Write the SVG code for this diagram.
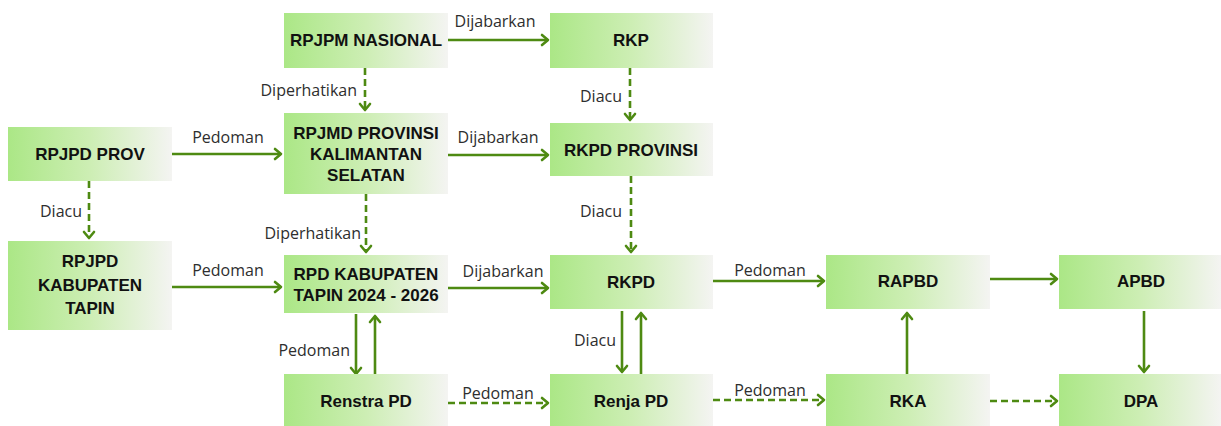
<svg xmlns="http://www.w3.org/2000/svg" width="1221" height="426" viewBox="0 0 1221 426">
<defs>
<linearGradient id="g" x1="0" y1="0" x2="1" y2="0">
<stop offset="0" stop-color="#abe786"/>
<stop offset="0.5" stop-color="#cdeeb4"/>
<stop offset="1" stop-color="#f4f4f2"/>
</linearGradient>
<marker id="ah" markerUnits="userSpaceOnUse" markerWidth="14" markerHeight="14" refX="8" refY="6" orient="auto" viewBox="0 0 14 12">
<path d="M2,1 L8,6 L2,11" fill="none" stroke="#4e8a12" stroke-width="2.6" stroke-linecap="round" stroke-linejoin="round"/>
</marker>
<style>
.box{fill:url(#g);}
.t{font-family:"Liberation Sans",Arial,sans-serif;font-weight:700;font-size:17px;fill:#111;text-anchor:middle;dominant-baseline:central;}
.l{font-family:"Open Sans","Liberation Sans",sans-serif;font-size:16px;fill:#2e2e2e;dominant-baseline:central;}
.c{text-anchor:middle;}
.r{text-anchor:end;}
.s{fill:none;stroke:#4e8a12;stroke-width:2.6;marker-end:url(#ah);}
.d{stroke-dasharray:7 4;}
</style>
</defs>
<rect width="1221" height="426" fill="#fff"/>

<g id="connectors">
<line class="s" x1="448" y1="40" x2="548" y2="40"/>
<text class="l c" x="495" y="21">Dijabarkan</text>
<line class="s d" x1="365" y1="68" x2="365" y2="110"/>
<text class="l r" x="357" y="90">Diperhatikan</text>
<line class="s d" x1="630" y1="68" x2="630" y2="120"/>
<text class="l r" x="622" y="96">Diacu</text>
<line class="s" x1="172" y1="154" x2="281" y2="154"/>
<text class="l c" x="228" y="137">Pedoman</text>
<line class="s" x1="448" y1="155" x2="548" y2="155"/>
<text class="l c" x="498" y="137">Dijabarkan</text>
<line class="s d" x1="89" y1="181" x2="89" y2="238"/>
<text class="l r" x="82" y="211">Diacu</text>
<line class="s d" x1="366" y1="194" x2="366" y2="252"/>
<text class="l r" x="361" y="233">Diperhatikan</text>
<line class="s d" x1="631" y1="176" x2="631" y2="252"/>
<text class="l r" x="622" y="211">Diacu</text>
<line class="s" x1="172" y1="287" x2="281" y2="287"/>
<text class="l c" x="228" y="270">Pedoman</text>
<line class="s" x1="448" y1="288" x2="548" y2="288"/>
<text class="l c" x="503" y="271">Dijabarkan</text>
<line class="s" x1="713" y1="281" x2="824" y2="281"/>
<text class="l c" x="770" y="270">Pedoman</text>
<line class="s" x1="990" y1="279" x2="1057" y2="279"/>
<line class="s" x1="1144" y1="311" x2="1144" y2="372"/>
<line class="s" x1="907" y1="374" x2="907" y2="313"/>
<line class="s" x1="356" y1="314" x2="356" y2="374"/>
<text class="l r" x="350" y="350">Pedoman</text>
<line class="s" x1="375" y1="374" x2="375" y2="316"/>
<line class="s" x1="622" y1="311" x2="622" y2="372"/>
<text class="l r" x="616" y="340">Diacu</text>
<line class="s" x1="641" y1="374" x2="641" y2="313"/>
<line class="s d" x1="448" y1="403" x2="548" y2="403"/>
<text class="l c" x="498" y="393">Pedoman</text>
<line class="s d" x1="713" y1="400" x2="824" y2="400"/>
<text class="l c" x="770" y="390">Pedoman</text>
<line class="s d" x1="990" y1="401" x2="1057" y2="401"/>
</g>

<g id="rpjpm"><rect class="box" x="284" y="13" width="164" height="55"/><text class="t" x="366" y="40">RPJPM NASIONAL</text></g>
<g id="rkp"><rect class="box" x="550" y="13" width="163" height="55"/><text class="t" x="631" y="40">RKP</text></g>
<g id="rpjmd"><rect class="box" x="284" y="113" width="164" height="81"/><text class="t" x="366" y="133">RPJMD PROVINSI</text><text class="t" x="366" y="154">KALIMANTAN</text><text class="t" x="366" y="175">SELATAN</text></g>
<g id="rkpdprov"><rect class="box" x="550" y="123" width="163" height="53"/><text class="t" x="631" y="150">RKPD PROVINSI</text></g>
<g id="rpjpdprov"><rect class="box" x="8" y="127" width="164" height="54"/><text class="t" x="90" y="154">RPJPD PROV</text></g>
<g id="rpjpdkab"><rect class="box" x="8" y="241" width="164" height="89"/><text class="t" x="90" y="261">RPJPD</text><text class="t" x="90" y="285">KABUPATEN</text><text class="t" x="90" y="308">TAPIN</text></g>
<g id="rpdkab"><rect class="box" x="284" y="255" width="164" height="58"/><text class="t" x="366" y="274">RPD KABUPATEN</text><text class="t" x="366" y="295">TAPIN 2024 - 2026</text></g>
<g id="renstra"><rect class="box" x="284" y="374" width="164" height="52"/><text class="t" x="366" y="401">Renstra PD</text></g>
<g id="rkpd"><rect class="box" x="550" y="255" width="163" height="54"/><text class="t" x="631" y="282">RKPD</text></g>
<g id="renja"><rect class="box" x="550" y="374" width="163" height="52"/><text class="t" x="631" y="401">Renja PD</text></g>
<g id="rapbd"><rect class="box" x="826" y="255" width="164" height="54"/><text class="t" x="908" y="281">RAPBD</text></g>
<g id="apbd"><rect class="box" x="1059" y="255" width="162" height="54"/><text class="t" x="1141" y="281">APBD</text></g>
<g id="rka"><rect class="box" x="826" y="374" width="164" height="52"/><text class="t" x="908" y="401">RKA</text></g>
<g id="dpa"><rect class="box" x="1059" y="374" width="162" height="52"/><text class="t" x="1141" y="401">DPA</text></g>
</svg>
